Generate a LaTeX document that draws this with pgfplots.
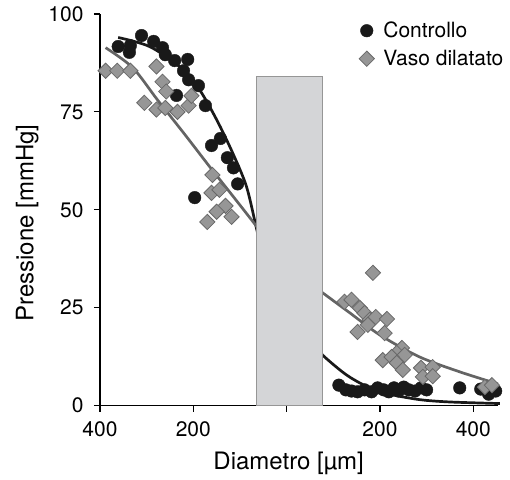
\documentclass[border=0pt]{standalone}
\usepackage{fontspec}
\setmainfont{TeX Gyre Heros}
\usepackage{pgfplots}
\pgfplotsset{compat=1.18}
\definecolor{curvegray}{RGB}{100,100,100}
\definecolor{diafill}{RGB}{150,150,150}
\definecolor{diaedge}{RGB}{105,105,105}
\definecolor{boxfill}{RGB}{212,213,215}
\definecolor{boxedge}{RGB}{150,150,150}
\definecolor{dotblack}{RGB}{25,25,25}

\begin{document}
\begin{tikzpicture}
\begin{axis}[
  scale only axis, width=398pt, height=391.5pt,
  xmin=-4, xmax=4.53, ymin=0, ymax=100,
  axis lines=left, axis line style={-, line width=1.2pt},
  tick align=outside, major tick length=6pt,
  tick style={line width=1.2pt, black},
  xtick={-4,-2,0,2,4}, xticklabels={400,200,,200,400},
  ytick={0,25,50,75,100},
  /pgf/number format/assume math mode=true,
  font=\fontsize{21}{25}\selectfont,
  xticklabel style={yshift=-7pt},
  yticklabel style={xshift=-7pt},
  xlabel={Diametro [µm]},
  ylabel={Pressione [mmHg]},
  label style={font=\fontsize{24}{28}\selectfont},
  xlabel style={at={(axis description cs:0.474,-0.147)}, anchor=center},
  ylabel style={at={(axis description cs:-0.183,0.466)}, anchor=center},
  legend style={at={(rel axis cs:0.643,0.99)}, anchor=north west, draw=none, fill=none,
    font=\fontsize{21}{25}\selectfont, row sep=7pt, column sep=7pt},
  legend cell align=left,
  clip=false,
]
% fitted curves
\addplot[forget plot, smooth, line width=2.7pt, dotblack] coordinates {
  (-3.61,94.0) (-2.94,91.7) (-2.30,86.6) (-1.87,80.7) (-1.50,73.0)
  (-1.16,64.6) (-0.86,55.9) (-0.64,44.9) (-0.50,38.0)};
\addplot[forget plot, smooth, line width=2.7pt, curvegray] coordinates {
  (-3.88,91.4) (-3.30,86.3) (-2.77,78.1) (-2.20,69.5) (-1.65,61.0)
  (-1.10,52.7) (-0.64,45.7) (-0.50,43.5)};
\addplot[forget plot, smooth, line width=2.7pt, dotblack] coordinates {
  (0.60,15.5) (0.77,12.9) (1.14,9.1) (1.40,6.9) (1.78,4.5) (2.20,2.9)
  (2.85,1.5) (3.50,0.9) (4.57,0.5)};
\addplot[forget plot, smooth, line width=2.7pt, curvegray] coordinates {
  (0.60,30.3) (0.77,28.8) (1.35,23.7) (2.00,18.0) (2.85,12.4) (3.71,8.6) (4.53,5.5)};
% capillary region
\addplot[forget plot, fill=boxfill, draw=boxedge, line width=1.2pt] coordinates {
  (-0.644,0) (-0.644,84) (0.773,84) (0.773,0)} -- cycle;
% Controllo
\addplot[only marks, mark=*, mark size=6.3pt, dotblack, mark options={fill=dotblack, draw=dotblack}] coordinates {
  (-3.61,91.7) (-3.37,90.2) (-3.35,91.9) (-3.11,94.5) (-2.85,93.0)
  (-2.66,91.4) (-2.60,89.6) (-2.40,88.1) (-2.12,88.4) (-2.21,85.5)
  (-2.10,83.2) (-1.89,81.7) (-2.36,79.2) (-1.74,76.6) (-1.61,66.4)
  (-1.42,68.2) (-1.27,63.3) (-1.14,60.7) (-1.05,56.6) (-1.97,53.1)
  (1.12,5.2) (1.27,4.0) (1.39,3.7) (1.52,3.5) (1.67,4.0) (1.82,3.5)
  (1.95,4.5) (2.08,4.0) (2.19,3.5) (2.30,4.5) (2.40,3.7) (2.51,4.7)
  (2.62,4.0) (2.75,3.7) (2.88,4.5) (3.00,4.0) (3.71,4.5) (4.16,4.2)
  (4.33,2.9) (4.48,3.7)};
\addlegendentry{Controllo}
% Vaso dilatato
\addplot[only marks, mark=square*, mark size=5.4pt, mark options={rotate=45, fill=diafill, draw=diaedge, line width=0.8pt}] coordinates {
  (-3.88,85.5) (-3.63,85.5) (-3.35,85.5) (-2.79,86.6) (-2.66,82.7)
  (-2.58,80.2) (-3.05,77.3) (-2.79,75.6) (-2.60,76.0) (-2.34,75.0)
  (-2.10,76.6) (-2.04,79.1) (-1.59,58.9) (-1.61,54.3) (-1.44,55.1)
  (-1.31,51.0) (-1.50,49.5) (-1.18,48.2) (-1.70,46.9)
  (1.85,33.9) (1.24,26.5) (1.39,27.0) (1.57,24.9) (1.67,23.6) (1.78,21.9)
  (1.91,22.6) (2.15,22.1) (1.74,20.6) (1.52,18.8) (2.10,18.5) (2.47,14.7)
  (2.36,13.4) (2.53,12.9) (2.06,11.6) (2.25,12.4) (2.36,10.9) (2.49,9.1)
  (2.88,9.6) (2.92,7.3) (3.13,9.8) (3.13,7.5) (4.25,4.7) (4.40,5.2)};
\addlegendentry{Vaso dilatato}
\end{axis}
\pgfresetboundingbox
\path (-100pt,-73.5pt) rectangle (410pt,405.5pt);
\end{tikzpicture}
\end{document}
